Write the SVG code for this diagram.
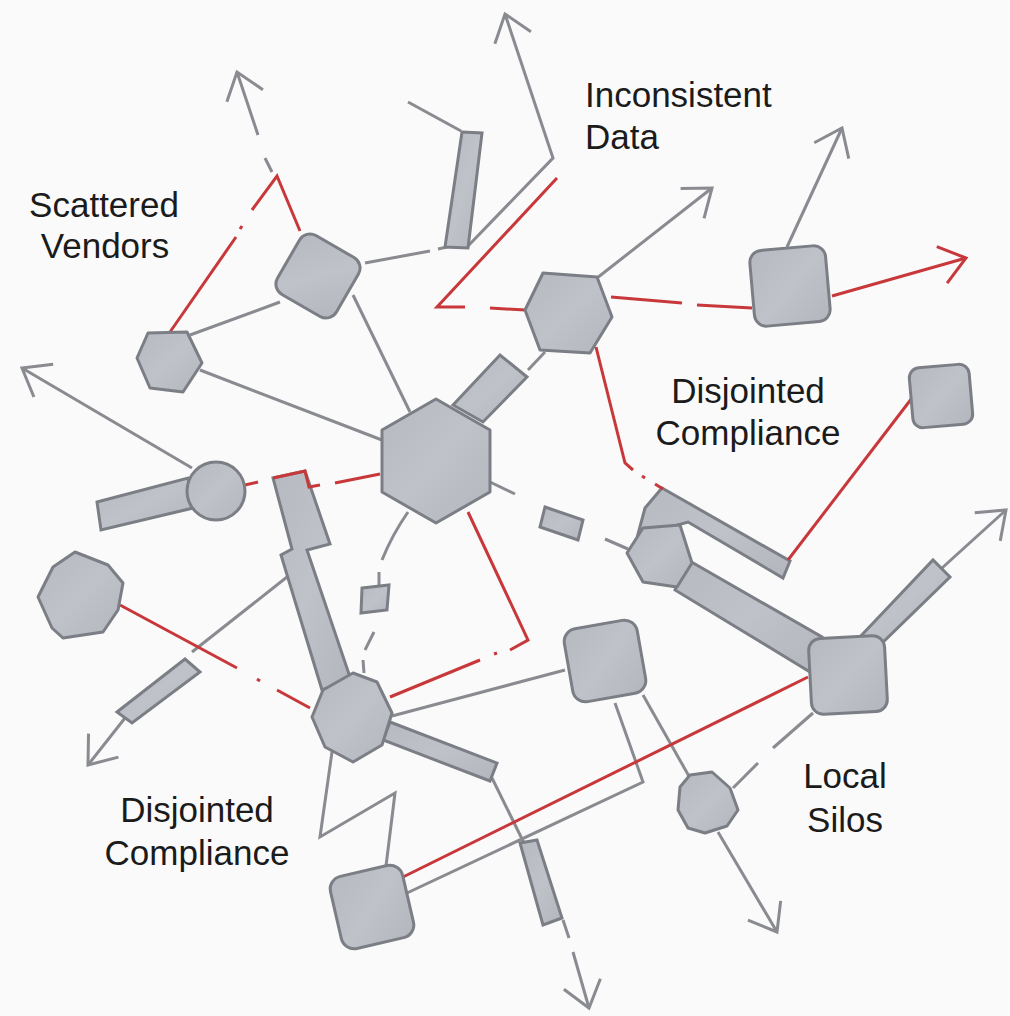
<svg xmlns="http://www.w3.org/2000/svg" width="1010" height="1016" viewBox="0 0 1010 1016">
<defs>
<style>
.n{fill:url(#fillg);stroke:#7b7e85;stroke-width:3;stroke-linejoin:round}
.b{fill:url(#fillg);stroke:#7b7e85;stroke-width:3;stroke-linejoin:miter}
.g{fill:none;stroke:#898b90;stroke-width:3;stroke-linejoin:miter}
.r{fill:none;stroke:#c8383b;stroke-width:3;stroke-linejoin:miter}
.t{font-family:"Liberation Sans",Arial,Helvetica,sans-serif;font-size:35px;fill:#1b1b1b}
</style>
<linearGradient id="fillg" x1="0" y1="0" x2="1" y2="1">
<stop offset="0" stop-color="#b6b9c0"/>
<stop offset="0.5" stop-color="#bfc2c8"/>
<stop offset="1" stop-color="#b3b6bd"/>
</linearGradient>
<marker id="ag" markerUnits="userSpaceOnUse" markerWidth="40" markerHeight="44" viewBox="0 0 40 44" refX="34" refY="22" orient="auto" overflow="visible">
<path d="M9,3 L34,22 L9,41" fill="none" stroke="#898b90" stroke-width="3"/>
</marker>
<marker id="ar" markerUnits="userSpaceOnUse" markerWidth="40" markerHeight="44" viewBox="0 0 40 44" refX="34" refY="22" orient="auto" overflow="visible">
<path d="M9,3 L34,22 L9,41" fill="none" stroke="#c8383b" stroke-width="3"/>
</marker>
</defs>
<rect width="1010" height="1016" fill="#fafafa"/>

<g id="connectors">
<!-- gray lines -->
<line class="g" x1="265" y1="158" x2="272" y2="172"/>
<path class="g" d="M258,135 L237,72" marker-end="url(#ag)"/>
<line class="g" x1="280" y1="302" x2="190" y2="335"/>
<line class="g" x1="200" y1="370" x2="382" y2="440"/>
<line class="g" x1="353" y1="295" x2="410" y2="412"/>
<line class="g" x1="365" y1="263" x2="430" y2="251"/>
<line class="g" x1="438" y1="249" x2="447" y2="247"/>
<line class="g" x1="408" y1="102" x2="461" y2="131"/>
<path class="g" d="M468,246 L553,158 L505,14" marker-end="url(#ag)"/>
<path class="g" d="M597,278 L712,188" marker-end="url(#ag)"/>
<path class="g" d="M787,247 L842,128" marker-end="url(#ag)"/>
<line class="g" x1="528" y1="370" x2="545" y2="352"/>
<line class="g" x1="490" y1="482" x2="515" y2="494"/>
<line class="g" x1="605" y1="539" x2="628" y2="549"/>
<path class="g" d="M408,512 Q392,535 382,560"/>
<line class="g" x1="379" y1="572" x2="379" y2="587"/>
<line class="g" x1="374" y1="632" x2="365" y2="650"/>
<line class="g" x1="363" y1="660" x2="364" y2="673"/>
<path class="g" d="M192,468 L22,368" marker-end="url(#ag)"/>
<line class="g" x1="287" y1="577" x2="192" y2="652"/>
<path class="g" d="M125,718 L88,765" marker-end="url(#ag)"/>
<line class="g" x1="392" y1="716" x2="565" y2="670"/>
<polyline class="g" points="332,752 320,837 395,793 386,866"/>
<line class="g" x1="492" y1="778" x2="525" y2="845"/>
<line class="g" x1="563" y1="920" x2="569" y2="938"/>
<path class="g" d="M573,952 L589,1008" marker-end="url(#ag)"/>
<polyline class="g" points="407,893 643,782 615,703"/>
<line class="g" x1="643" y1="695" x2="690" y2="778"/>
<path class="g" d="M718,832 L777,932" marker-end="url(#ag)"/>
<line class="g" x1="733" y1="788" x2="758" y2="763"/>
<line class="g" x1="773" y1="748" x2="813" y2="713"/>
<path class="g" d="M942,568 L1006,510" marker-end="url(#ag)"/>

<!-- thick bars -->
<polygon class="b" points="462,132 482,133 468,248 445,247"/>
<polygon class="b" points="453,405 500,355 527,377 483,422"/>
<polygon class="b" points="97,502 188,478 193,508 101,530"/>
<polygon class="b" points="273,478 305,471 330,544 307,550 351,680 322,690 281,555 292,549"/>
<polygon class="b" points="117,712 185,659 200,672 132,723"/>
<polygon class="b" points="390,722 497,763 490,781 383,740"/>
<polygon class="b" points="520,843 537,840 562,918 543,925"/>
<polygon class="b" points="662,488 790,561 783,578 688,522 660,530 638,534 645,508"/>
<polygon class="b" points="688,560 822,637 810,672 675,590"/>
<polygon class="b" points="857,640 933,560 950,577 880,645"/>
<polygon class="b" points="545,507 583,520 578,540 540,527"/>
<polygon class="b" points="362,588 389,585 387,610 361,613"/>

<!-- red lines -->
<line class="r" x1="170" y1="332" x2="236" y2="237"/>
<line class="r" x1="240" y1="229" x2="242" y2="226"/>
<polyline class="r" points="252,210 277,176 300,231"/>
<polyline class="r" points="557,178 437,307 465,307"/>
<line class="r" x1="490" y1="308" x2="525" y2="310"/>
<line class="r" x1="611" y1="297" x2="682" y2="303"/>
<line class="r" x1="697" y1="305" x2="752" y2="308"/>
<path class="r" d="M832,296 L966,258" marker-end="url(#ar)"/>
<polyline class="r" points="596,347 625,463 633,470"/>
<line class="r" x1="642" y1="476" x2="645" y2="478"/>
<line class="r" x1="655" y1="484" x2="663" y2="489"/>
<line class="r" x1="912" y1="398" x2="788" y2="560"/>
<line class="r" x1="380" y1="474" x2="335" y2="483"/>
<polyline class="r" points="320,485 309,487 305,471 273,478"/>
<line class="r" x1="258" y1="482" x2="245" y2="485"/>
<polyline class="r" points="468,512 528,640 510,650"/>
<line class="r" x1="494" y1="654" x2="497" y2="653"/>
<line class="r" x1="480" y1="660" x2="390" y2="697"/>
<line class="r" x1="120" y1="605" x2="237" y2="668"/>
<line class="r" x1="257" y1="679" x2="260" y2="681"/>
<line class="r" x1="277" y1="690" x2="310" y2="708"/>
<line class="r" x1="403" y1="877" x2="808" y2="677"/>
</g>

<g id="node-a"><rect class="n" x="-34" y="-34" width="68" height="68" rx="12" transform="translate(318,276) rotate(30)"/></g>
<g id="node-b"><polygon class="n" points="148,333 187,332 202,363 183,392 150,388 137,358"/></g>
<g id="node-c"><polygon class="n" points="436,399 490,430 490,492 436,523 382,492 382,430"/></g>
<g id="node-d"><polygon class="n" points="525,310 543,273 597,277 612,317 590,353 540,350"/></g>
<g id="node-e"><rect class="n" x="-38" y="-38" width="76" height="76" rx="12" transform="translate(790,286) rotate(-5)"/></g>
<g id="node-f"><rect class="n" x="-30" y="-30" width="60" height="60" rx="10" transform="translate(941,396) rotate(-5)"/></g>
<g id="node-g"><circle class="n" cx="216" cy="491" r="29"/></g>
<g id="node-h"><polygon class="n" points="75,552 108,565 123,583 118,610 103,632 63,638 52,628 38,597 53,567"/></g>
<g id="node-i"><polygon class="n" points="353,673 377,682 392,713 382,745 353,762 325,747 312,717 323,690"/></g>
<g id="node-j"><rect class="n" x="-37" y="-37" width="74" height="74" rx="13" transform="translate(605,661) rotate(-10)"/></g>
<g id="node-k"><rect class="n" x="-38" y="-38" width="76" height="76" rx="12" transform="translate(848,675) rotate(-3)"/></g>
<g id="node-l"><polygon class="n" points="690,775 712,772 730,788 738,810 727,826 705,833 688,828 678,810 680,787"/></g>
<g id="node-m"><rect class="n" x="-37" y="-37" width="74" height="74" rx="13" transform="translate(372,907) rotate(-13)"/></g>
<g id="node-n"><polygon class="n" points="627,553 643,528 680,525 692,563 677,587 643,582"/></g>

<g id="labels">
<text class="t" x="104" y="217" text-anchor="middle">Scattered</text>
<text class="t" x="105" y="258" text-anchor="middle">Vendors</text>
<text class="t" x="585" y="107">Inconsistent</text>
<text class="t" x="585" y="149">Data</text>
<text class="t" x="748" y="403" text-anchor="middle">Disjointed</text>
<text class="t" x="748" y="445" text-anchor="middle">Compliance</text>
<text class="t" x="845" y="788" text-anchor="middle">Local</text>
<text class="t" x="845" y="832" text-anchor="middle">Silos</text>
<text class="t" x="197" y="822" text-anchor="middle">Disjointed</text>
<text class="t" x="197" y="865" text-anchor="middle">Compliance</text>
</g>
</svg>
